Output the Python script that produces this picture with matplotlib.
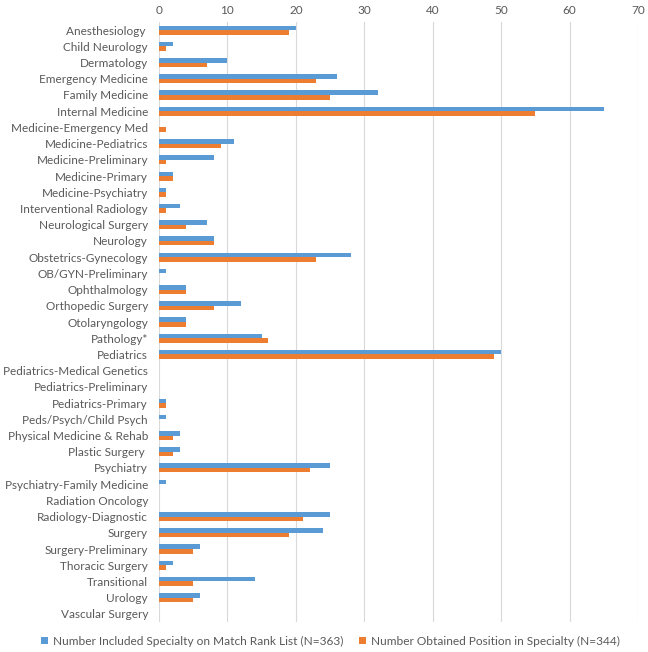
import numpy as np
import matplotlib
import matplotlib.pyplot as plt

matplotlib.use("Agg")

specialties = [
    "Anesthesiology ", "Child Neurology", "Dermatology", "Emergency Medicine",
    "Family Medicine", "Internal Medicine", "Medicine-Emergency Med",
    "Medicine-Pediatrics", "Medicine-Preliminary", "Medicine-Primary",
    "Medicine-Psychiatry", "Interventional Radiology", "Neurological Surgery",
    "Neurology", "Obstetrics-Gynecology", "OB/GYN-Preliminary", "Ophthalmology",
    "Orthopedic Surgery", "Otolaryngology", "Pathology*", "Pediatrics",
    "Pediatrics-Medical Genetics", "Pediatrics-Preliminary", "Pediatrics-Primary",
    "Peds/Psych/Child Psych", "Physical Medicine & Rehab", "Plastic Surgery ",
    "Psychiatry", "Psychiatry-Family Medicine", "Radiation Oncology",
    "Radiology-Diagnostic", "Surgery", "Surgery-Preliminary", "Thoracic Surgery",
    "Transitional", "Urology", "Vascular Surgery",
]
ranked = [20, 2, 10, 26, 32, 65, 0, 11, 8, 2, 1, 3, 7, 8, 28, 1, 4, 12, 4, 15,
          50, 0, 0, 1, 1, 3, 3, 25, 1, 0, 25, 24, 6, 2, 14, 6, 0]
obtained = [19, 1, 7, 23, 25, 55, 1, 9, 1, 2, 1, 1, 4, 8, 23, 0, 4, 8, 4, 16,
            49, 0, 0, 1, 0, 2, 2, 22, 0, 0, 21, 19, 5, 1, 5, 5, 0]
ticks = [0, 10, 20, 30, 40, 50, 60, 70]

BLUE = "#5B9BD5"
ORANGE = "#ED7D31"
GREY = "#595959"

plt.rcParams["font.family"] = ["Lato", "DejaVu Sans"]

fig = plt.figure(figsize=(6.48, 6.52), dpi=100)
ax = fig.add_axes([159 / 648, 30 / 652, (638 - 159) / 648, 600 / 652])

y = np.arange(len(specialties))
h = 0.28
ax.barh(y - h / 2, ranked, height=h, color=BLUE,
        label="Number Included Specialty on Match Rank List (N=363)", zorder=3)
ax.barh(y + h / 2, obtained, height=h, color=ORANGE,
        label="Number Obtained Position in Specialty (N=344)", zorder=3)

ax.set_xlim(0, 70)
ax.set_ylim(len(specialties) - 0.5, -0.5)
ax.set_xticks(ticks)
ax.set_yticks(y)
ax.set_yticklabels(specialties)
ax.xaxis.tick_top()
ax.tick_params(axis="both", length=0, colors=GREY, labelsize=8.5)
ax.tick_params(axis="y", pad=8)
ax.tick_params(axis="x", pad=4)
ax.grid(axis="x", color="#D9D9D9", linewidth=0.8, zorder=0)
for s in ax.spines.values():
    s.set_visible(False)

leg = fig.legend(loc="center", bbox_to_anchor=(0.51, 11 / 652), ncol=2,
                 frameon=False, fontsize=8.6, handlelength=0.6, handleheight=0.6,
                 handletextpad=0.4, columnspacing=1.3)
for t in leg.get_texts():
    t.set_color(GREY)

fig.savefig("out.png", dpi=100)
